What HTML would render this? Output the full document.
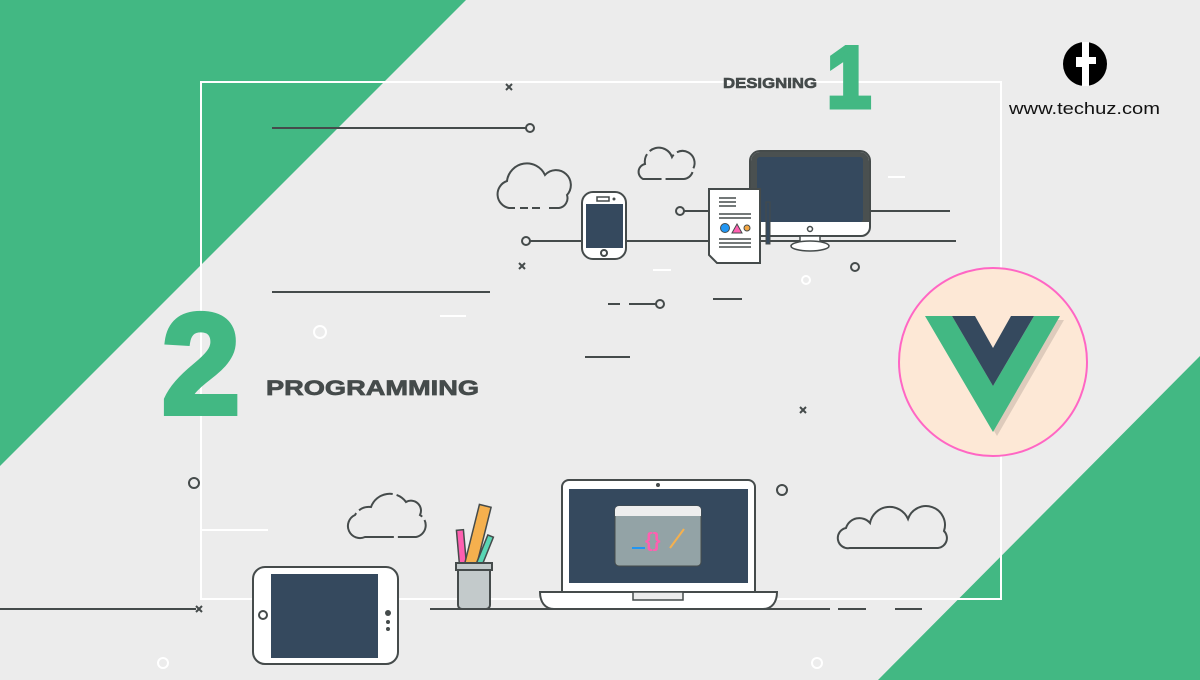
<!DOCTYPE html>
<html><head><meta charset="utf-8"><style>
html,body{margin:0;padding:0;background:#ececec}
svg{display:block}
text{font-family:"Liberation Sans",sans-serif}
</style></head><body>
<svg width="1200" height="680" viewBox="0 0 1200 680" xmlns="http://www.w3.org/2000/svg">
<rect width="1200" height="680" fill="#ececec"/>
<polygon points="0,0 466,0 0,466" fill="#42b883"/>
<polygon points="1200,356 1200,680 878,680" fill="#42b883"/>
<rect x="201" y="82" width="800" height="517" fill="none" stroke="#fff" stroke-width="2"/>

<!-- text -->
<text x="723" y="88" font-size="15" font-weight="bold" fill="#454b4b" stroke="#454b4b" stroke-width="0.6" textLength="94" lengthAdjust="spacingAndGlyphs">DESIGNING</text>
<text x="827" y="107" font-size="86" font-weight="bold" fill="#42b883" stroke="#42b883" stroke-width="5" textLength="44" lengthAdjust="spacingAndGlyphs">1</text>
<text x="162" y="413" font-size="142" font-weight="bold" fill="#42b883" stroke="#42b883" stroke-width="6" textLength="78" lengthAdjust="spacingAndGlyphs">2</text>
<text x="266" y="395" font-size="21" font-weight="bold" fill="#454b4b" stroke="#454b4b" stroke-width="0.7" textLength="213" lengthAdjust="spacingAndGlyphs">PROGRAMMING</text>

<!-- techuz logo -->
<circle cx="1085" cy="64" r="22" fill="#000"/>
<rect x="1082" y="42" width="7" height="44" fill="#fff"/>
<rect x="1076" y="57" width="20" height="7" fill="#fff"/>
<rect x="1076" y="57" width="7" height="10" fill="#fff"/>
<text x="1009" y="114" font-size="17" fill="#111" textLength="151" lengthAdjust="spacingAndGlyphs">www.techuz.com</text>

<g stroke="#454b4b" stroke-width="2" fill="none">
<line x1="272" y1="128" x2="526" y2="128"/><circle cx="530" cy="128" r="4"/>
<line x1="272" y1="292" x2="490" y2="292"/>
<line x1="530" y1="241" x2="956" y2="241"/><circle cx="526" cy="241" r="4"/>
<line x1="684" y1="211" x2="950" y2="211"/><circle cx="680" cy="211" r="4"/>
<circle cx="855" cy="267" r="4"/>
<line x1="608" y1="304" x2="620" y2="304"/><line x1="629" y1="304" x2="656" y2="304"/><circle cx="660" cy="304" r="4"/>
<line x1="713" y1="299" x2="742" y2="299"/>
<line x1="585" y1="357" x2="630" y2="357"/>
<circle cx="194" cy="483" r="5"/><circle cx="782" cy="490" r="5"/>
<line x1="0" y1="609" x2="196" y2="609"/>
<line x1="430" y1="609" x2="830" y2="609"/>
<line x1="838" y1="609" x2="866" y2="609"/><line x1="895" y1="609" x2="922" y2="609"/>
<path d="M506,84 l6,6 M512,84 l-6,6 M519,263 l6,6 M525,263 l-6,6 M800,407 l6,6 M806,407 l-6,6 M196,606 l6,6 M202,606 l-6,6"/>
</g>
<g stroke="#fff" stroke-width="2" fill="none">
<circle cx="806" cy="280" r="4"/><circle cx="320" cy="332" r="6"/>
<circle cx="163" cy="663" r="5"/><circle cx="817" cy="663" r="5"/>
<line x1="653" y1="270" x2="671" y2="270"/><line x1="888" y1="177" x2="905" y2="177"/>
<line x1="440" y1="316" x2="466" y2="316"/><line x1="200" y1="530" x2="268" y2="530"/>
</g>

<!-- clouds -->
<g stroke="#454b4b" stroke-width="2" fill="none">
<path d="M515,208 h-6 a14,14 0 0 1 -2,-27 a20,20 0 0 1 38,-6 a14,14 0 0 1 22,20 a10,10 0 0 1 -8,13 h-10 M540,208 h-8 M528,208 h-8"/>
<path d="M643,179 a8,8 0 0 1 2,-15 a14,14 0 0 1 27,-7 a10,10 0 0 1 21,12 a10,10 0 0 1 -9,10 z" stroke-dasharray="30 4"/>
<path d="M365,537 a12,12 0 0 1 -10,-22 a16,16 0 0 1 16,-8 a20,20 0 0 1 35,-5 a10,10 0 0 1 14,13 a12,12 0 0 1 -4,22 z" stroke-dasharray="40 4"/>
<path d="M850,548 a10,10 0 0 1 -4,-20 a14,14 0 0 1 24,-5 a20,20 0 0 1 38,-4 a14,14 0 0 1 36,12 a10,10 0 0 1 -6,17 z"/>
</g>

<!-- phone -->
<rect x="582" y="192" width="44" height="67" rx="11" fill="#fff" stroke="#454b4b" stroke-width="2"/>
<rect x="586" y="204" width="37" height="44" fill="#35495e"/>
<rect x="597" y="197" width="12" height="4" fill="none" stroke="#454b4b" stroke-width="1.5"/>
<circle cx="614" cy="199" r="1.5" fill="#454b4b"/>
<circle cx="604" cy="253" r="3" fill="none" stroke="#454b4b" stroke-width="2"/>

<!-- monitor -->
<path d="M760,151 h100 a10,10 0 0 1 10,10 v66 a9,9 0 0 1 -9,9 h-102 a9,9 0 0 1 -9,-9 v-66 a10,10 0 0 1 10,-10z" fill="#fff" stroke="#454b4b" stroke-width="2"/>
<path d="M760,152 h100 a9,9 0 0 1 9,9 v61 h-118 v-61 a9,9 0 0 1 9,-9z" fill="#4a5050"/>
<rect x="757" y="157" width="106" height="65" rx="3" fill="#35495e"/>
<circle cx="810" cy="229" r="2.5" fill="none" stroke="#454b4b" stroke-width="1.5"/>
<rect x="800" y="236" width="20" height="6" fill="#fff" stroke="#454b4b" stroke-width="1.5"/>
<ellipse cx="810" cy="246" rx="19" ry="5" fill="#fff" stroke="#454b4b" stroke-width="1.5"/>

<!-- document -->
<path d="M709,189 h51 v74 h-43 l-8,-8 z" fill="#fff" stroke="#454b4b" stroke-width="2"/>
<g stroke="#454b4b" stroke-width="1.5">
<line x1="719" y1="198" x2="736" y2="198"/><line x1="719" y1="202" x2="736" y2="202"/><line x1="719" y1="206" x2="736" y2="206"/>
<line x1="719" y1="214" x2="751" y2="214"/><line x1="719" y1="218" x2="751" y2="218"/>
<line x1="719" y1="239" x2="751" y2="239"/><line x1="719" y1="243" x2="751" y2="243"/><line x1="719" y1="247" x2="751" y2="247"/>
</g>
<circle cx="725" cy="228" r="4.5" fill="#2196f3" stroke="#454b4b" stroke-width="1"/>
<polygon points="737,224 742,233 732,233" fill="#ff5fb0" stroke="#454b4b" stroke-width="1"/>
<circle cx="747" cy="228" r="3" fill="#f5a742" stroke="#454b4b" stroke-width="1"/>
<rect x="766" y="202" width="4" height="42" fill="#35495e" stroke="#454b4b"/>

<!-- vue -->
<circle cx="993" cy="362" r="94" fill="#fde8d6" stroke="#ff66c4" stroke-width="2"/>
<polygon points="929,320 956,320 997,390 1038,320 1064,320 997,436" fill="#000" opacity="0.12"/>
<polygon points="925,316 952,316 993,386 1034,316 1060,316 993,432" fill="#42b883"/>
<polygon points="952,316 975,316 993,348 1011,316 1034,316 993,386" fill="#35495e"/>

<!-- tablet -->
<rect x="253" y="567" width="145" height="97" rx="12" fill="#fff" stroke="#454b4b" stroke-width="2"/>
<rect x="271" y="574" width="107" height="84" fill="#35495e"/>
<circle cx="263" cy="615" r="4" fill="none" stroke="#454b4b" stroke-width="2"/>
<circle cx="388" cy="613" r="3" fill="#454b4b"/><circle cx="388" cy="622" r="2" fill="#454b4b"/><circle cx="388" cy="629" r="2" fill="#454b4b"/>

<!-- pencil cup -->
<rect x="458" y="530" width="7" height="35" fill="#ff5fb0" stroke="#454b4b" stroke-width="1.5" transform="rotate(-5 461 548)"/>
<rect x="472" y="505" width="12" height="60" fill="#f5b04e" stroke="#454b4b" stroke-width="1.5" transform="rotate(14 478 535)"/>
<rect x="482" y="535" width="6" height="32" fill="#5ad6b5" stroke="#454b4b" stroke-width="1.5" transform="rotate(22 485 550)"/>
<path d="M458,569 h32 v36 a4,4 0 0 1 -4,4 h-24 a4,4 0 0 1 -4,-4z" fill="#c3cacb" stroke="#454b4b" stroke-width="2"/>
<rect x="456" y="563" width="36" height="7" fill="#c3cacb" stroke="#454b4b" stroke-width="2"/>

<!-- laptop -->
<path d="M569,480 h179 a7,7 0 0 1 7,7 v105 h-193 v-105 a7,7 0 0 1 7,-7z" fill="#fff" stroke="#454b4b" stroke-width="2"/>
<rect x="569" y="489" width="179" height="94" fill="#35495e"/>
<circle cx="658" cy="485" r="2" fill="#454b4b"/>
<rect x="615" y="506" width="86" height="60" rx="4" fill="#93a3a6" stroke="#454b4b" stroke-width="1"/>
<path d="M619,506 h78 a4,4 0 0 1 4,4 v6 h-86 v-6 a4,4 0 0 1 4,-4z" fill="#eee"/>
<line x1="632" y1="548" x2="645" y2="548" stroke="#2196f3" stroke-width="2"/>
<text x="645" y="547" font-size="20" font-weight="bold" fill="#ff5fb0">{}</text>
<line x1="670" y1="548" x2="684" y2="529" stroke="#f5b04e" stroke-width="2"/>
<path d="M540,592 h237 c0,10 -5,17 -14,17 h-209 c-9,0 -14,-7 -14,-17z" fill="#fff" stroke="#454b4b" stroke-width="2"/>
<rect x="633" y="592" width="50" height="8" fill="#ececec" stroke="#454b4b" stroke-width="1.5"/>
</svg>
</body></html>
